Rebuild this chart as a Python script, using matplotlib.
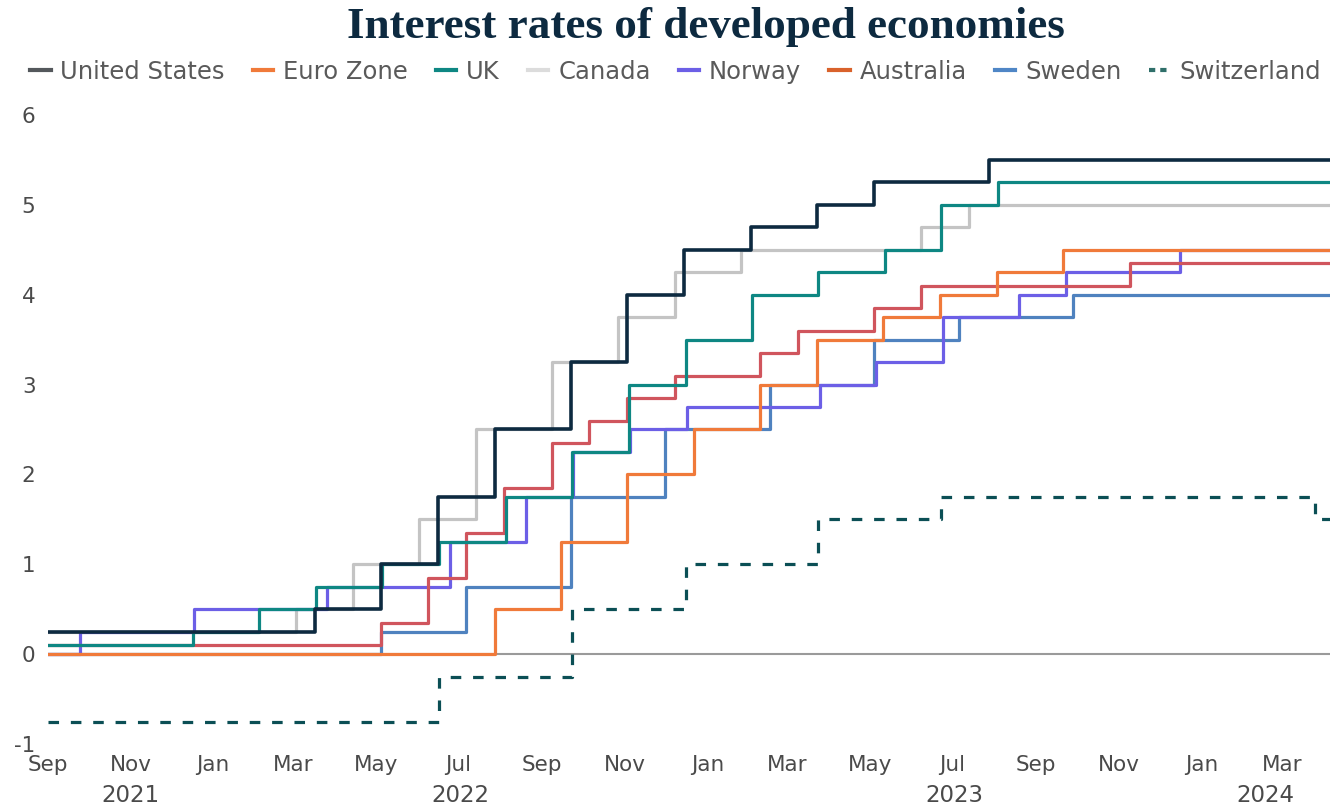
import matplotlib
matplotlib.use("Agg")
import matplotlib.pyplot as plt
import matplotlib.dates as mdates
from matplotlib.lines import Line2D
import pandas as pd

plt.rcParams["axes.unicode_minus"] = False

# policy rate changes (date the new rate starts, rate in %)
start = "2021-09-01"
end = "2024-04-05"

us_dates = [start, "2022-03-17", "2022-05-05", "2022-06-16", "2022-07-28", "2022-09-22",
            "2022-11-03", "2022-12-15", "2023-02-02", "2023-03-23", "2023-05-04", "2023-07-28"]
us_rates = [0.25, 0.5, 1.0, 1.75, 2.5, 3.25, 4.0, 4.5, 4.75, 5.0, 5.25, 5.5]

ez_dates = [start, "2022-07-28", "2022-09-15", "2022-11-03", "2022-12-22", "2023-02-09",
            "2023-03-23", "2023-05-11", "2023-06-22", "2023-08-03", "2023-09-21"]
ez_rates = [0.0, 0.5, 1.25, 2.0, 2.5, 3.0, 3.5, 3.75, 4.0, 4.25, 4.5]

uk_dates = [start, "2021-12-17", "2022-02-04", "2022-03-18", "2022-05-06", "2022-06-17",
            "2022-08-05", "2022-09-23", "2022-11-04", "2022-12-16", "2023-02-03",
            "2023-03-24", "2023-05-12", "2023-06-23", "2023-08-04"]
uk_rates = [0.1, 0.25, 0.5, 0.75, 1.0, 1.25, 1.75, 2.25, 3.0, 3.5, 4.0, 4.25, 4.5, 5.0, 5.25]

ca_dates = [start, "2022-03-03", "2022-04-14", "2022-06-02", "2022-07-14", "2022-09-08",
            "2022-10-27", "2022-12-08", "2023-01-26", "2023-06-08", "2023-07-13"]
ca_rates = [0.25, 0.5, 1.0, 1.5, 2.5, 3.25, 3.75, 4.25, 4.5, 4.75, 5.0]

no_dates = [start, "2021-09-25", "2021-12-18", "2022-03-26", "2022-06-25", "2022-08-20",
            "2022-09-24", "2022-11-05", "2022-12-17", "2023-03-25", "2023-05-06",
            "2023-06-24", "2023-08-19", "2023-09-23", "2023-12-16"]
no_rates = [0.0, 0.25, 0.5, 0.75, 1.25, 1.75, 2.25, 2.5, 2.75, 3.0, 3.25, 3.75, 4.0, 4.25, 4.5]

au_dates = [start, "2022-05-05", "2022-06-09", "2022-07-07", "2022-08-04", "2022-09-08",
            "2022-10-06", "2022-11-03", "2022-12-08", "2023-02-09", "2023-03-09",
            "2023-05-04", "2023-06-08", "2023-11-09"]
au_rates = [0.1, 0.35, 0.85, 1.35, 1.85, 2.35, 2.6, 2.85, 3.1, 3.35, 3.6, 3.85, 4.1, 4.35]

se_dates = [start, "2022-05-05", "2022-07-07", "2022-09-22", "2022-12-01", "2023-02-16",
            "2023-05-04", "2023-07-06", "2023-09-28"]
se_rates = [0.0, 0.25, 0.75, 1.75, 2.5, 3.0, 3.5, 3.75, 4.0]

ch_dates = [start, "2022-06-17", "2022-09-23", "2022-12-16", "2023-03-24", "2023-06-23",
            "2024-03-25"]
ch_rates = [-0.75, -0.25, 0.5, 1.0, 1.5, 1.75, 1.5]

names = ["United States", "Euro Zone", "UK", "Canada", "Norway", "Australia", "Sweden", "Switzerland"]
all_dates = [us_dates, ez_dates, uk_dates, ca_dates, no_dates, au_dates, se_dates, ch_dates]
all_rates = [us_rates, ez_rates, uk_rates, ca_rates, no_rates, au_rates, se_rates, ch_rates]
line_colors = ["#0d2a40", "#f07a3a", "#0e8783", "#c4c4c4", "#6c5fe6", "#d0555d", "#4f82bf", "#0b4f55"]
legend_colors = ["#54585c", "#f07a3a", "#0e8783", "#dcdcdc", "#6c5fe6", "#d9622b", "#4f86c6", "#2f6f6a"]
# bottom to top
draw_order = [3, 6, 4, 5, 2, 1, 0, 7]

fig = plt.figure(figsize=(13.3, 8.05), dpi=100)
ax = fig.add_axes([48 / 1330, 61 / 805, 1 - 48 / 1330, 629 / 805])

ax.axhline(0, color="#9a9a9a", lw=1.5, zorder=1)
for z, i in enumerate(draw_order):
    d = pd.to_datetime(all_dates[i] + [end])
    r = all_rates[i] + [all_rates[i][-1]]
    ls = (0, (3.3, 3.7)) if names[i] == "Switzerland" else "-"
    ax.step(d, r, where="post", color=line_colors[i], lw=2.6 if i == 0 else 2.3, ls=ls, zorder=2 + z)

ax.set_xlim(pd.Timestamp(start), pd.Timestamp(end))
ax.set_ylim(-1, 6)
ax.set_yticks(range(-1, 7))
for s in ax.spines.values():
    s.set_visible(False)

font = "DejaVu Sans"
txt_color = "#4a4a4a"
ax.xaxis.set_major_locator(mdates.MonthLocator(bymonth=[1, 3, 5, 7, 9, 11]))
ax.xaxis.set_major_formatter(mdates.DateFormatter("%b"))
ax.tick_params(length=0, labelsize=15.5, labelcolor=txt_color)
ax.tick_params(axis="y", pad=9)
ax.tick_params(axis="x", pad=8)
for lab in ax.get_yticklabels() + ax.get_xticklabels():
    lab.set_fontfamily(font)

# year labels under the months
years = [2021, 2022, 2023, 2024]
x0, x1 = pd.Timestamp(start), pd.Timestamp(end)
for y in years:
    a = max(pd.Timestamp(f"{y}-01-01"), x0)
    b = min(pd.Timestamp(f"{y + 1}-01-01"), x1)
    mid = a + (b - a) / 2
    ax.text(mid, -0.064, str(y), transform=ax.get_xaxis_transform(), ha="center", va="top",
            fontsize=16.5, color=txt_color, family=font)

fig.text(0.531, 0.966, "Interest rates of developed economies", ha="center", va="center",
         fontsize=32.5, fontweight="bold", color="#0d2a40", family="Liberation Serif")

handles = []
for i, n in enumerate(names):
    ls = (0, (1.5, 1.2)) if n == "Switzerland" else "-"
    handles.append(Line2D([0], [0], color=legend_colors[i], lw=3, ls=ls))
fig.legend(handles, names, loc="center", bbox_to_anchor=(0.508, 0.911), ncol=8, frameon=False,
           handlelength=0.85, handletextpad=0.4, columnspacing=1.15,
           prop={"family": font, "size": 17.5}, labelcolor="#5a5a5a")

plt.savefig("out.png", dpi=100)
